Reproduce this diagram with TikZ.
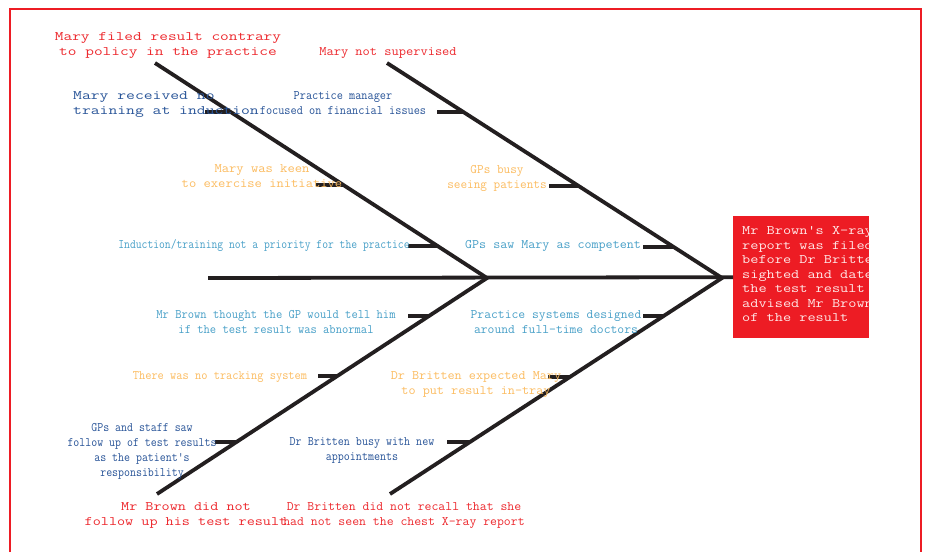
\documentclass[tikz,border=0pt]{standalone}
\usepackage{graphicx}
\definecolor{redc}{RGB}{237,40,45}
\definecolor{boxred}{RGB}{237,28,36}
\definecolor{dblue}{RGB}{40,84,152}
\definecolor{lblue}{RGB}{72,160,200}
\definecolor{orng}{RGB}{252,188,96}
\definecolor{bonec}{RGB}{35,31,32}
\definecolor{pinkw}{RGB}{255,232,232}
\newcommand\lbltext[2]{\scalebox{#1}[1]{\begin{tabular}{@{}c@{}}#2\end{tabular}}}
\newcommand\lbltextl[2]{\scalebox{#1}[1]{\begin{tabular}{@{}l@{}}#2\end{tabular}}}
\tikzset{
  lbl/.style={inner sep=0pt, font=\ttfamily\fontsize{13}{15}\selectfont},
  bone/.style={draw=bonec, line width=3.8pt},
  rib/.style={draw=bonec, line width=3.8pt},
}
\begin{document}
\begin{tikzpicture}[x=1pt,y=-1pt]
\useasboundingbox (0,0) rectangle (925,552);
\fill[white] (0,0) rectangle (925,552);
% frame
\draw[boxred, line width=2pt] (10,552) -- (10,8.5) -- (921,8.5) -- (921,552);

% skeleton coordinates
\coordinate (tail) at (208,278);
\coordinate (mid) at (487,278);
\coordinate (head) at (722,278);
\coordinate (ul) at (155,63);
\coordinate (ur) at (387,63);
\coordinate (ll) at (157,494);
\coordinate (lr) at (390,494);

% effect box
\node[fill=boxred, minimum width=136pt, minimum height=122pt, inner sep=0pt, anchor=north west] (effect) at (733,216) {};
\begin{scope}
\clip (733,216) rectangle (869,338);
\node[lbl, anchor=north west, text=pinkw] (efftext) at (742,224.5)
 {\fontsize{13}{14.5}\selectfont\lbltextl{1.22}{Mr Brown's X-ray\\report was filed\\before Dr Britten\\sighted and dated\\the test result\\advised Mr Brown\\of the result}};
\end{scope}

% bones
\draw[bone] (tail) -- (effect.west);
\draw[bone, line join=miter] (ul) -- (mid) -- (ll);
\draw[bone, line join=miter] (ur) -- (head) -- (lr);

% ribs
\coordinate (a1) at (205,112); \coordinate (b1) at (231,112);
\coordinate (a2) at (316,185); \coordinate (b2) at (343,185);
\coordinate (a3) at (408,246); \coordinate (b3) at (437.5,246);
\coordinate (a4) at (437,112); \coordinate (b4) at (463,112);
\coordinate (a5) at (549,186); \coordinate (b5) at (578.5,186);
\coordinate (a6) at (643,247); \coordinate (b6) at (673.5,247);
\coordinate (a7) at (408,316); \coordinate (b7) at (429,316);
\coordinate (a8) at (318,376); \coordinate (b8) at (337,376);
\coordinate (a9) at (215,442); \coordinate (b9) at (236,442);
\coordinate (a10) at (643,316); \coordinate (b10) at (663.5,316);
\coordinate (a11) at (548,377); \coordinate (b11) at (569.5,377);
\coordinate (a12) at (447,442); \coordinate (b12) at (470,442);
\foreach \i in {1,...,12} { \draw[rib] (a\i) -- (b\i); }

% labels
\node[lbl, text=redc] (t1) at (168,44.5) {\lbltext{1.30}{Mary filed result contrary\\to policy in the practice}};
\node[lbl, text=redc] (t2) at (388,52) {\lbltext{1.08}{Mary not supervised}};
\node[lbl, text=dblue, anchor=west] (t3) at (73,103.5) {\lbltextl{1.32}{Mary received no\\training at induction}};
\node[lbl, text=dblue] (t4) at (343,103.5) {\lbltext{0.92}{Practice manager\\focused on financial issues}};
\node[lbl, text=orng] (t5) at (262,176.5) {\lbltext{1.09}{Mary was keen\\to exercise initiative}};
\node[lbl, text=orng] (t6) at (497,178) {\lbltext{0.99}{GPs busy\\seeing patients}};
\node[lbl, text=lblue] (t7) at (264,245) {\lbltext{0.87}{Induction/training not a priority for the practice}};
\node[lbl, text=lblue] (t8) at (553,245) {\lbltext{1.05}{GPs saw Mary as competent}};
\node[lbl, text=lblue] (t9) at (276,322.5) {\lbltext{0.94}{Mr Brown thought the GP would tell him\\if the test result was abnormal}};
\node[lbl, text=lblue] (t10) at (556,322.5) {\lbltext{1.02}{Practice systems designed\\around full-time doctors}};
\node[lbl, text=orng] (t11) at (220,376) {\lbltext{0.93}{There was no tracking system}};
\node[lbl, text=orng] (t12) at (476,384) {\lbltext{1.06}{Dr Britten expected Mary\\to put result in-tray}};
\node[lbl, text=dblue] (t13) at (142,450.5) {\lbltext{0.89}{GPs and staff saw\\follow up of test results\\as the patient's\\responsibility}};
\node[lbl, text=dblue] (t14) at (362,450) {\lbltext{0.90}{Dr Britten busy with new\\appointments}};
\node[lbl, text=redc] (t15) at (186,514.5) {\lbltext{1.21}{Mr Brown did not\\follow up his test result}};
\node[lbl, text=redc] (t16) at (404,514.5) {\lbltext{1.03}{Dr Britten did not recall that she\\had not seen the chest X-ray report}};
\end{tikzpicture}
\end{document}
